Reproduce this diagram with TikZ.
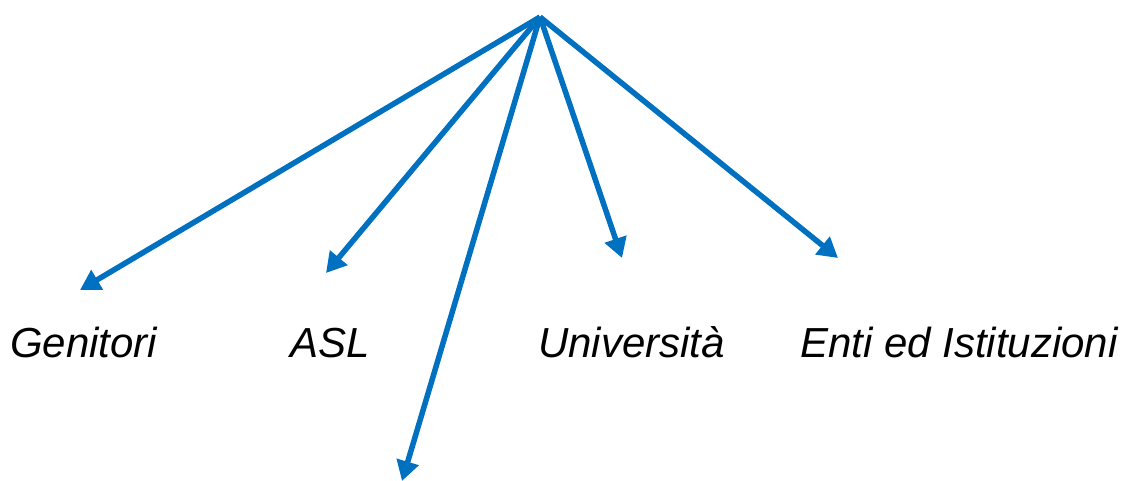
\documentclass[tikz,border=0pt]{standalone}
\usepackage{fontspec}
\setmainfont{Liberation Sans}
\usetikzlibrary{arrows.meta}
\definecolor{arrblue}{HTML}{0070C0}
\begin{document}
\begin{tikzpicture}[x=1pt,y=-1pt,
  conn/.style={draw=arrblue,line width=5.5pt,-{Triangle[length=20pt,width=22pt]}},
  lbl/.style={anchor=base west,inner sep=0pt,font=\fontsize{42}{50}\selectfont\itshape}]
\useasboundingbox (0,0) rectangle (1127,481);
\coordinate (top) at (540,17);
\coordinate (g) at (80,290);
\coordinate (a) at (326,273);
\coordinate (b) at (402,481);
\coordinate (u) at (622,258);
\coordinate (e) at (838,258);
\draw[conn] (top) -- (g);
\draw[conn] (top) -- (a);
\draw[conn] (top) -- (b);
\draw[conn] (top) -- (u);
\draw[conn] (top) -- (e);
\node[lbl] (tg) at (10,357) {Genitori};
\node[lbl] (ta) at (290,357) {ASL};
\node[lbl] (tu) at (538,357) {Università};
\node[lbl] (te) at (800,357) {Enti ed Istituzioni};
\end{tikzpicture}
\end{document}
